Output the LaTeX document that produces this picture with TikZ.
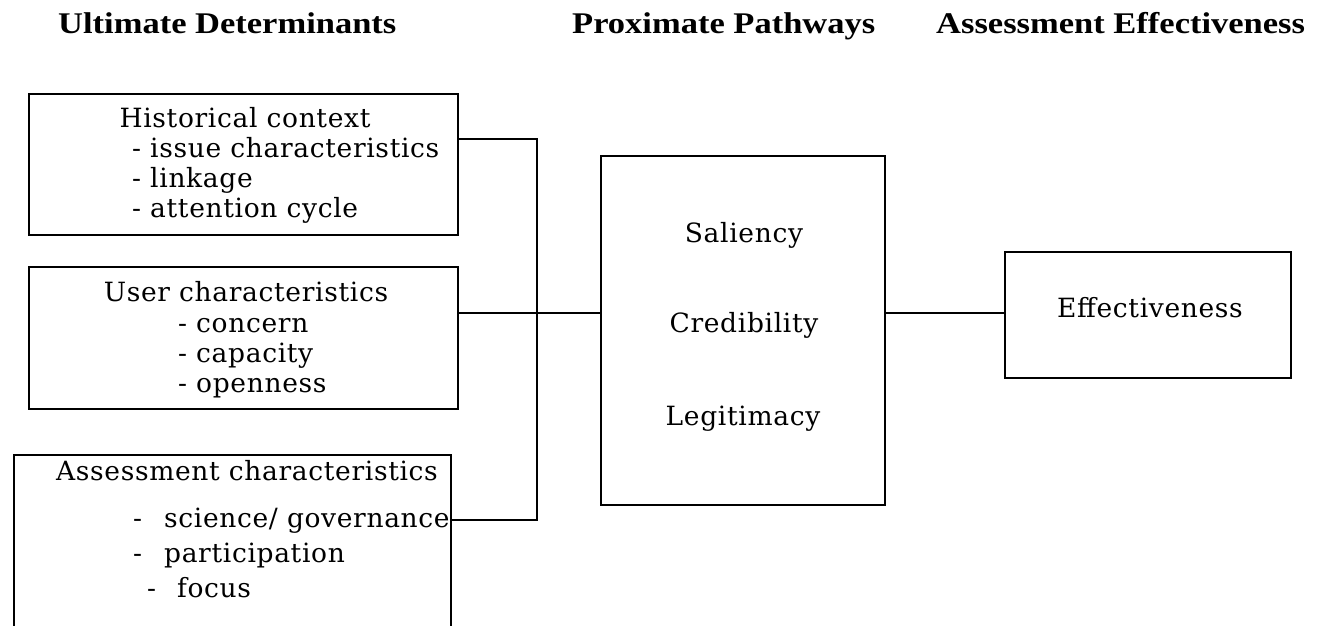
\documentclass[tikz,border=0pt]{standalone}
\usepackage{fontspec}
\usepackage{graphicx}
\newfontfamily\boxfont[LetterSpace=2.5]{DejaVu Serif}
\newfontfamily\headfont{Liberation Serif}
\tikzset{
  box/.style={draw, line width=1.8pt, rectangle, inner sep=0pt, anchor=north west},
  txt/.style={inner sep=0pt, anchor=base west, font=\boxfont\fontsize{26.5}{30}\selectfont},
  ctxt/.style={txt, anchor=base},
  hd/.style={inner sep=0pt, anchor=base west, font=\headfont\bfseries\fontsize{34.5}{40}\selectfont},
  link/.style={line width=1.8pt}
}
\begin{document}
\begin{tikzpicture}[x=1pt,y=-1pt]
\useasboundingbox (0,0) rectangle (1317,626);
\clip (0,0) rectangle (1317,626);
% headers
\node[hd] (h1) at (58,34) {\scalebox{1}[0.87]{Ultimate Determinants}};
\node[hd] (h2) at (572,34) {\scalebox{1}[0.87]{Proximate Pathways}};
\node[hd] (h3) at (936,34) {\scalebox{1}[0.87]{Assessment Effectiveness}};
% boxes
\node[box, minimum width=429pt, minimum height=141pt] (hist) at (28,93) {};
\node[box, minimum width=429pt, minimum height=142pt] (user) at (28,266) {};
\node[box, minimum width=437pt, minimum height=200pt] (assess) at (13,454) {};
\node[box, minimum width=284pt, minimum height=349pt] (prox) at (600,155) {};
\node[box, minimum width=286pt, minimum height=126pt] (eff) at (1004,251) {};
% texts
\node[ctxt] (t1) at (245,127) {Historical context};
\node[txt] (t1a) at (132,157) {- issue characteristics};
\node[txt] (t1b) at (132,187) {- linkage};
\node[txt] (t1c) at (132,217) {- attention cycle};
\node[ctxt] (t2) at (246,301) {User characteristics};
\node[txt] (t2a) at (178,332) {- concern};
\node[txt] (t2b) at (178,362) {- capacity};
\node[txt] (t2c) at (178,392) {- openness};
\node[ctxt] (t3) at (247,480) {Assessment characteristics};
\node[txt] (t3a) at (133,527) {-\hspace{22pt}science/ governance};
\node[txt] (t3b) at (133,562) {-\hspace{22pt}participation};
\node[txt] (t3c) at (147,597) {-\hspace{21pt}focus};
\node[ctxt] (p1) at (744,242) {Saliency};
\node[ctxt] (p2) at (744,332) {Credibility};
\node[ctxt] (p3) at (743,425) {Legitimacy};
\node[ctxt] (e1) at (1150,317) {Effectiveness};
% connectors
\coordinate (bus) at (537,313);
\coordinate (hy) at (0,139);
\coordinate (sy) at (0,520);
\draw[link] (hist.east |- hy) -| (bus);
\draw[link] (t3a.east |- sy) -| (bus);
\draw[link] (user.east |- bus) -- (prox.west |- bus);
\draw[link] (prox.east |- bus) -- (eff.west |- bus);
\end{tikzpicture}
\end{document}
